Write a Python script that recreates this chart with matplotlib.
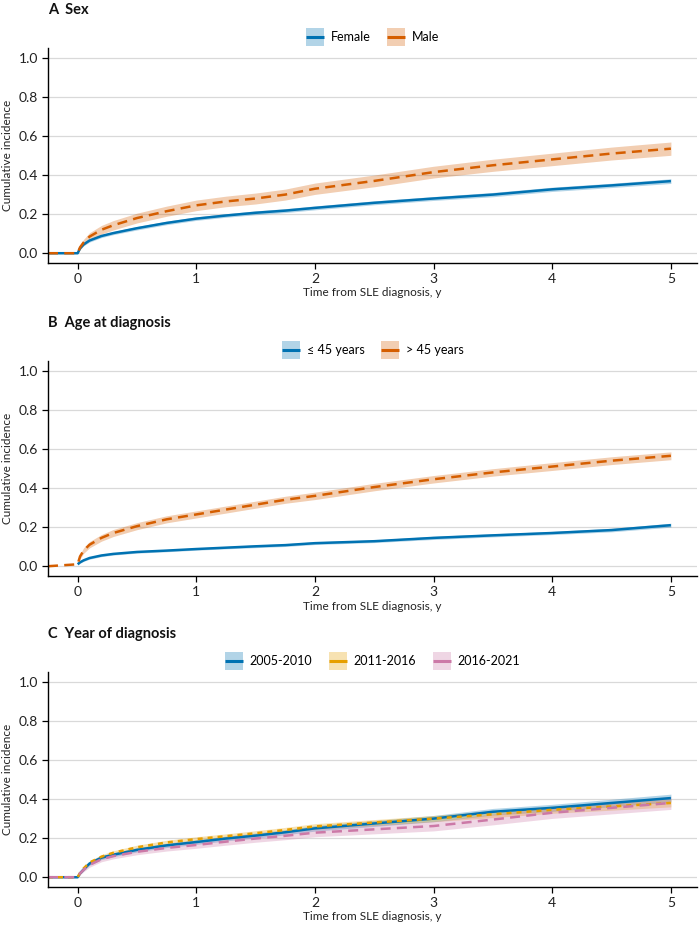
import matplotlib
matplotlib.use("Agg")
import matplotlib.pyplot as plt
from matplotlib.lines import Line2D
from matplotlib.patches import Rectangle
from matplotlib.legend_handler import HandlerBase
from matplotlib.colors import to_rgba
import numpy as np

plt.rcParams['font.family'] = ['Lato', 'DejaVu Sans']

# ---- data ----
time_y = [0, 0.02, 0.05, 0.1, 0.2, 0.3, 0.5, 0.75, 1, 1.25, 1.5, 1.75, 2, 2.5, 3, 3.5, 4, 4.5, 5]
pre_zero = -0.25

# Panel A: Sex
female = [0, 0.025, 0.045, 0.065, 0.088, 0.103, 0.128, 0.155, 0.177, 0.193, 0.207, 0.218, 0.232, 0.258, 0.28, 0.30, 0.327, 0.347, 0.369]
female_hw = [0, 0.006, 0.007, 0.008, 0.008, 0.008, 0.009, 0.009, 0.009, 0.009, 0.01, 0.01, 0.01, 0.01, 0.01, 0.011, 0.011, 0.011, 0.012]
male = [0, 0.03, 0.055, 0.085, 0.12, 0.143, 0.18, 0.215, 0.245, 0.265, 0.28, 0.30, 0.33, 0.37, 0.415, 0.45, 0.48, 0.51, 0.535]
male_hw = [0, 0.012, 0.016, 0.02, 0.022, 0.024, 0.025, 0.026, 0.027, 0.027, 0.028, 0.028, 0.029, 0.03, 0.03, 0.031, 0.032, 0.033, 0.034]

# Panel B: Age at diagnosis
young = [0.01, 0.02, 0.03, 0.042, 0.055, 0.063, 0.073, 0.08, 0.088, 0.095, 0.102, 0.108, 0.118, 0.128, 0.145, 0.158, 0.17, 0.185, 0.21]
young_hw = [0.004, 0.005, 0.005, 0.006, 0.006, 0.006, 0.006, 0.006, 0.006, 0.006, 0.007, 0.007, 0.007, 0.007, 0.008, 0.008, 0.008, 0.009, 0.01]
old = [0.01, 0.05, 0.08, 0.11, 0.145, 0.17, 0.205, 0.24, 0.265, 0.29, 0.315, 0.34, 0.36, 0.405, 0.445, 0.48, 0.51, 0.54, 0.565]
old_hw = [0, 0.012, 0.014, 0.016, 0.017, 0.018, 0.018, 0.018, 0.018, 0.018, 0.018, 0.018, 0.019, 0.019, 0.019, 0.019, 0.02, 0.02, 0.02]

# Panel C: Year of diagnosis
y2005 = [0, 0.02, 0.04, 0.07, 0.10, 0.115, 0.14, 0.163, 0.18, 0.198, 0.213, 0.23, 0.25, 0.275, 0.30, 0.335, 0.355, 0.38, 0.405]
y2005_hw = [0, 0.006, 0.008, 0.009, 0.01, 0.01, 0.011, 0.011, 0.012, 0.012, 0.013, 0.013, 0.014, 0.015, 0.016, 0.017, 0.018, 0.019, 0.02]
y2011 = [0, 0.022, 0.045, 0.075, 0.105, 0.125, 0.153, 0.178, 0.195, 0.21, 0.225, 0.242, 0.26, 0.28, 0.30, 0.322, 0.345, 0.362, 0.38]
y2011_hw = [0, 0.006, 0.008, 0.009, 0.01, 0.01, 0.011, 0.011, 0.012, 0.012, 0.013, 0.013, 0.014, 0.015, 0.016, 0.017, 0.018, 0.019, 0.02]
y2016 = [0, 0.02, 0.038, 0.063, 0.092, 0.108, 0.13, 0.15, 0.165, 0.182, 0.198, 0.212, 0.228, 0.245, 0.262, 0.295, 0.33, 0.355, 0.38]
y2016_hw = [0, 0.008, 0.01, 0.012, 0.013, 0.014, 0.015, 0.016, 0.017, 0.018, 0.019, 0.02, 0.021, 0.023, 0.025, 0.027, 0.029, 0.031, 0.033]

x_ticks = [0, 1, 2, 3, 4, 5]
y_ticks = [0.0, 0.2, 0.4, 0.6, 0.8, 1.0]

BLUE, ORANGE, PINK, GOLD = "#0072B2", "#D55E00", "#CC79A7", "#E69F00"

panels = [
    dict(title="A  Sex",
         series=[("Female", female, female_hw, BLUE, "-", True),
                 ("Male", male, male_hw, ORANGE, (0, (4, 2.5)), True)]),
    dict(title="B  Age at diagnosis",
         series=[("\u2264 45 years", young, young_hw, BLUE, "-", False),
                 ("> 45 years", old, old_hw, ORANGE, (0, (4, 2.5)), True)]),
    dict(title="C  Year of diagnosis",
         series=[("2005-2010", y2005, y2005_hw, BLUE, "-", True),
                 ("2011-2016", y2011, y2011_hw, GOLD, (0, (2, 2)), True),
                 ("2016-2021", y2016, y2016_hw, PINK, (0, (4, 2.5)), True)]),
]


class KeyHandler(HandlerBase):
    """Ribbon-filled square key with the line running across it."""
    def create_artists(self, legend, orig_handle, xdescent, ydescent,
                       width, height, fontsize, trans):
        col = orig_handle.get_color()
        s = width
        x0 = -xdescent
        y0 = -ydescent + (height - s) / 2
        rect = Rectangle((x0, y0), s, s, facecolor=to_rgba(col, 0.3),
                         edgecolor='none', transform=trans)
        ym = -ydescent + height / 2
        ln = Line2D([x0, x0 + s], [ym, ym], color=col, lw=2.2,
                    solid_capstyle='butt', transform=trans)
        return [rect, ln]


fig = plt.figure(figsize=(7, 9.25), dpi=100)
W, H = 700, 925
left, right = 48, 697
axes_px = [(48, 263), (361, 576), (672, 887)]

for p, (top, bot) in zip(panels, axes_px):
    ax = fig.add_axes([left / W, 1 - bot / H, (right - left) / W, (bot - top) / H])
    handles, labels = [], []
    t = np.array(time_y)
    for name, vals, hw, col, ls, pre in p["series"]:
        v = np.array(vals)
        h = np.array(hw)
        ax.fill_between(t, v - h, v + h, color=col, alpha=0.3, lw=0)
        tt = np.concatenate([[pre_zero], t]) if pre else t
        vv = np.concatenate([[0], v]) if pre else v
        ax.plot(tt, vv, color=col, lw=1.8, ls=ls, solid_capstyle='butt')
        handles.append(Line2D([], [], color=col))
        labels.append(name)
    ax.set_xlim(-0.25, 5.22)
    ax.set_ylim(-0.05, 1.05)
    ax.set_xticks(x_ticks)
    ax.set_xticklabels([str(x) for x in x_ticks])
    ax.set_yticks(y_ticks)
    ax.set_yticklabels([f"{y:.1f}" for y in y_ticks])
    ax.yaxis.grid(True, color="#d9d9d9", lw=0.9)
    ax.set_axisbelow(True)
    for s in ["top", "right"]:
        ax.spines[s].set_visible(False)
    for s in ["left", "bottom"]:
        ax.spines[s].set_linewidth(1.0)
        ax.spines[s].set_color("black")
    ax.tick_params(axis="both", direction="out", length=4, width=0.9, pad=3,
                   labelsize=10, color="black", labelcolor="#222222")
    ax.set_xlabel("Time from SLE diagnosis, y", fontsize=8.5, color="#222222", labelpad=2)
    ax.set_ylabel("Cumulative incidence", fontsize=8.5, color="#222222")
    ax.yaxis.set_label_coords(-(left - 13) / (right - left), 0.5)
    fig.text(left / W, 1 - (top - 38) / H, p["title"], fontsize=10.5, fontweight="bold",
             ha="left", va="center", color="#111111")
    leg = ax.legend(handles, labels, handler_map={Line2D: KeyHandler()},
                    loc="center", ncol=len(labels), frameon=False, fontsize=9,
                    handlelength=1.45, handleheight=1.5, columnspacing=1.3, handletextpad=0.55,
                    borderaxespad=0, borderpad=0)
    leg.set_bbox_to_anchor((0.5, 1 + 11 / (bot - top)), transform=ax.transAxes)

fig.savefig("out.png", dpi=100)
